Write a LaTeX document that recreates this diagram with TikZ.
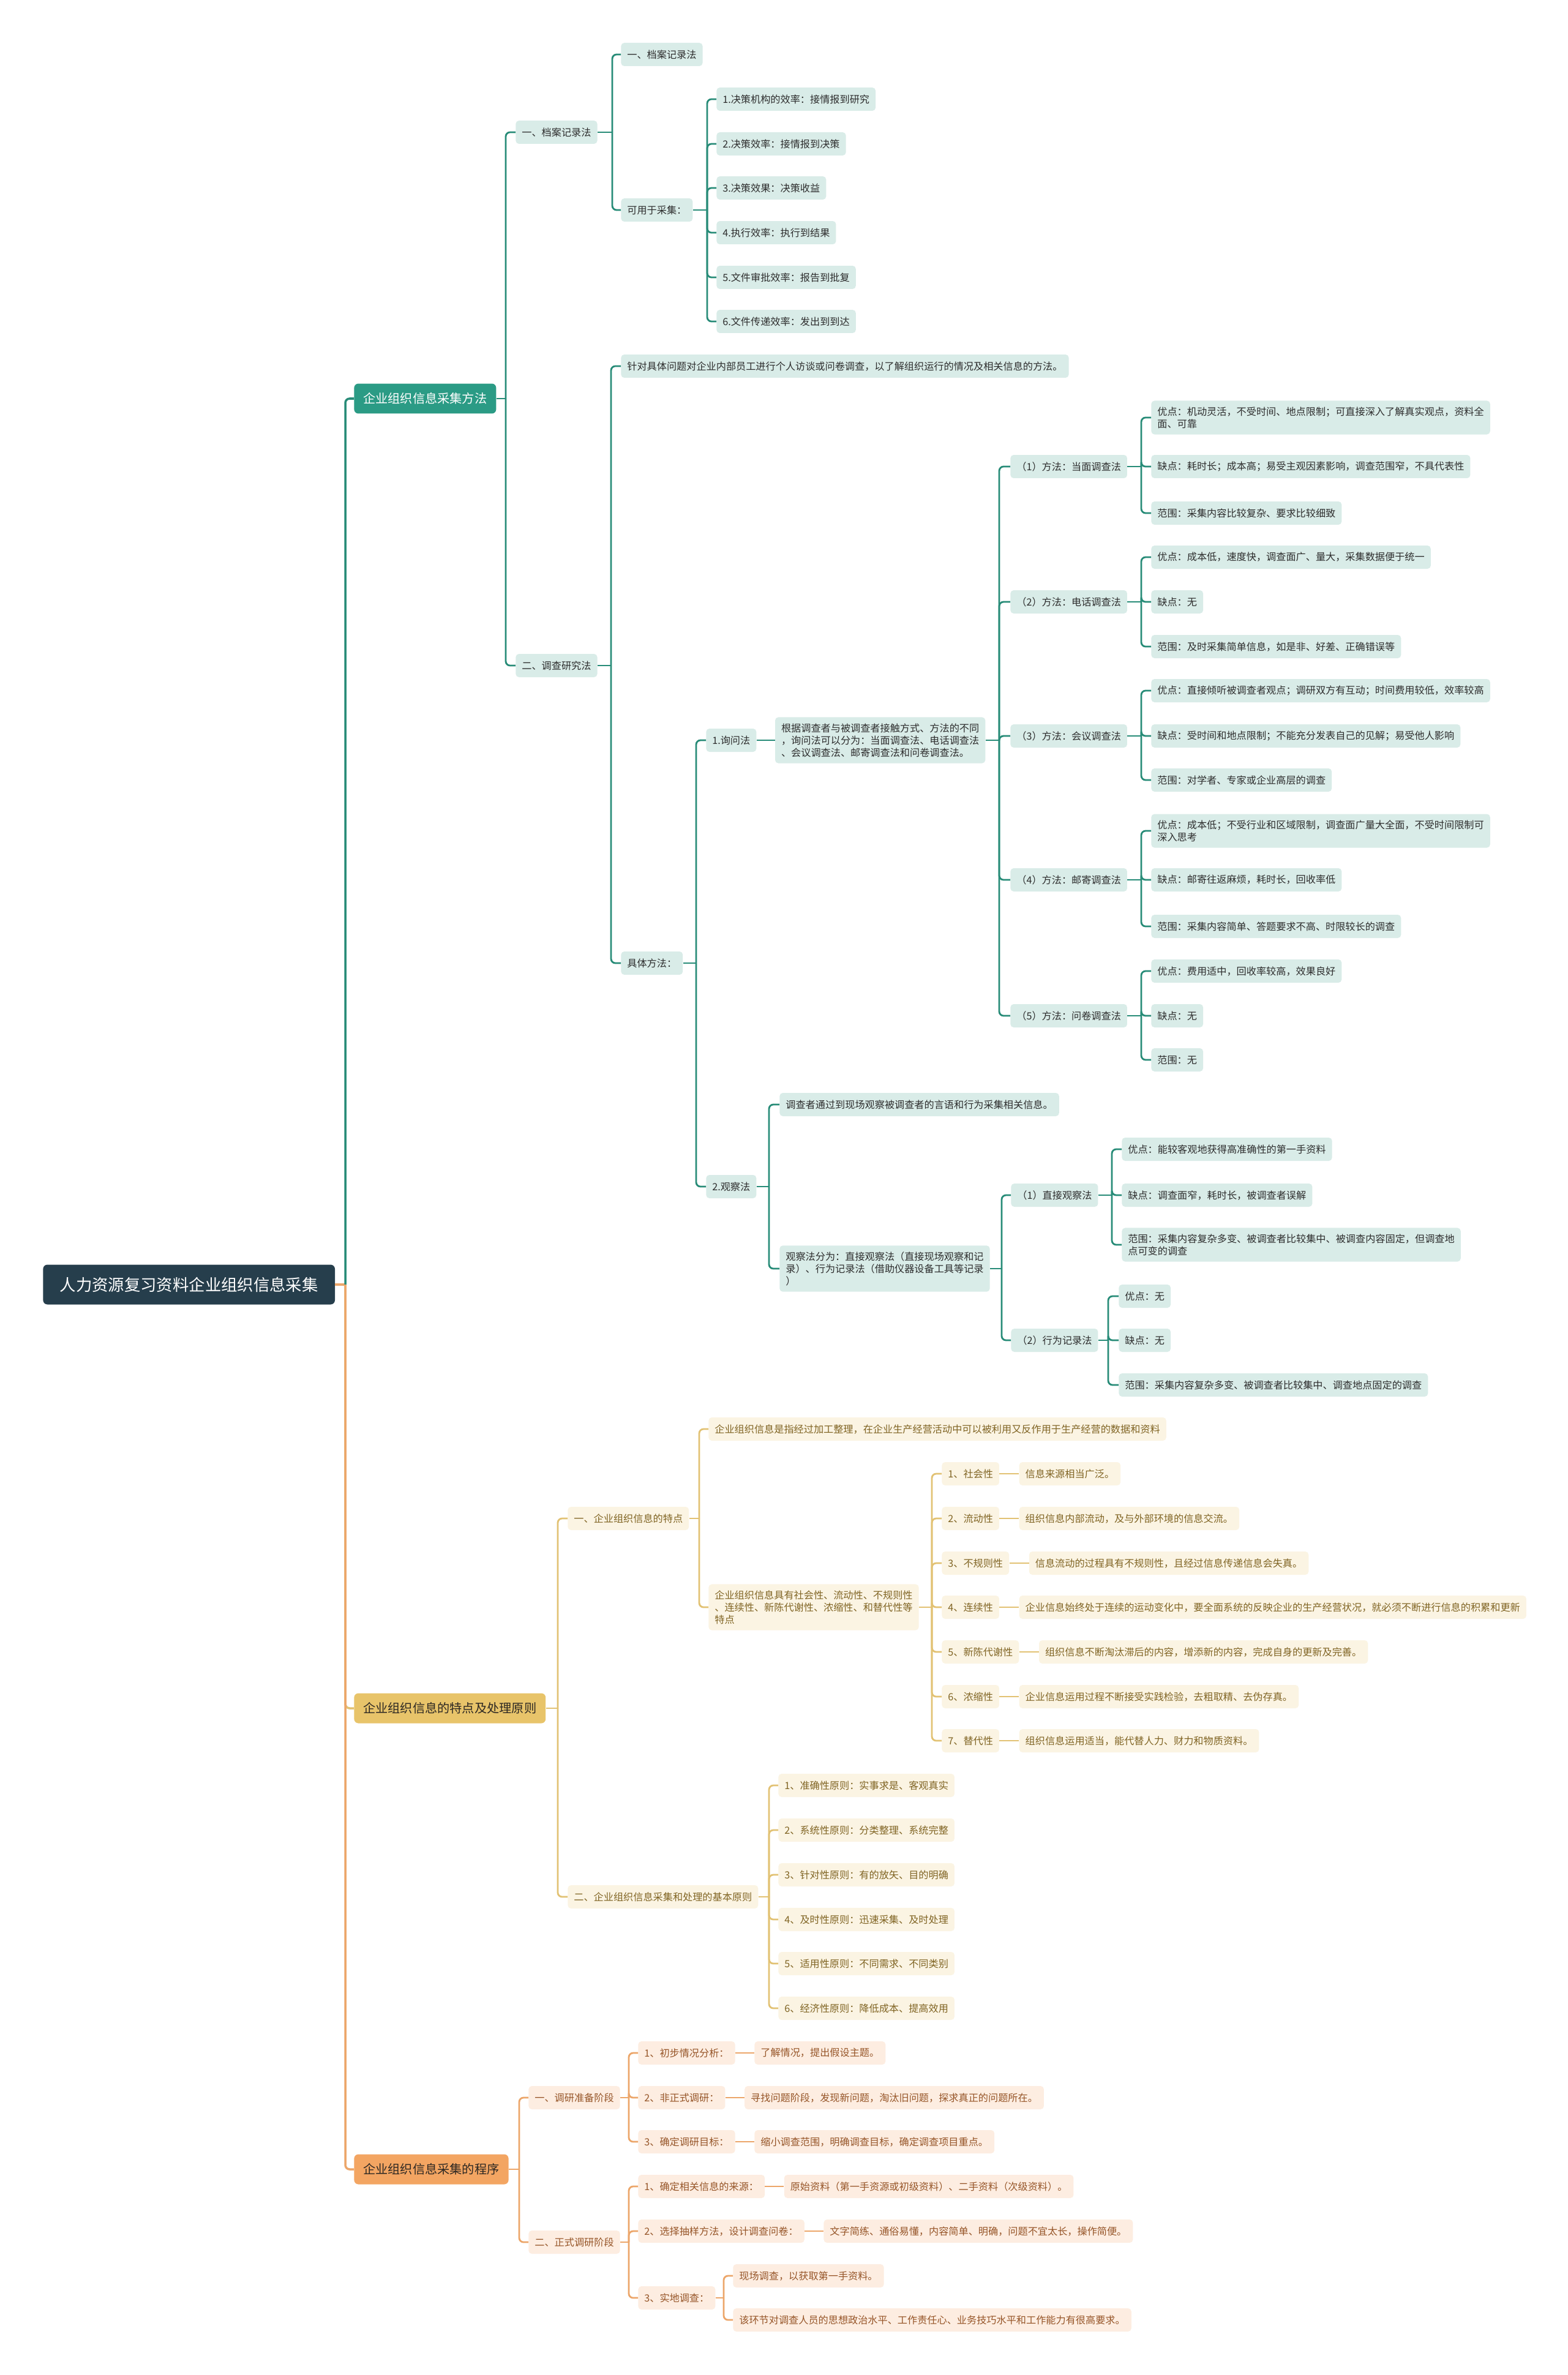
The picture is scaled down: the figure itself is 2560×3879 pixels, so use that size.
\documentclass[tikz,border=0pt]{standalone}
\usepackage{fontspec}
\setmainfont{Noto Sans CJK SC}
\usetikzlibrary{positioning}

\definecolor{rootC}{RGB}{38,62,76}
\definecolor{tealC}{RGB}{43,155,133}
\definecolor{tealL}{RGB}{40,140,120}
\definecolor{tealP}{RGB}{217,236,232}
\definecolor{tealT}{RGB}{45,45,45}
\definecolor{goldC}{RGB}{232,196,106}
\definecolor{goldL}{RGB}{226,194,116}
\definecolor{goldP}{RGB}{251,244,227}
\definecolor{goldT}{RGB}{128,100,35}
\definecolor{orgC}{RGB}{243,165,98}
\definecolor{orgL}{RGB}{236,166,106}
\definecolor{orgP}{RGB}{253,237,225}
\definecolor{orgT}{RGB}{150,85,40}
\definecolor{darkT}{RGB}{45,40,35}

\newcommand{\leaffont}{\fontsize{9.2}{11.4}\selectfont}

\begin{document}
\begin{tikzpicture}[
        x=0.02cm, y=-0.02cm,
        leaf/.style={rectangle, rounded corners=3pt, anchor=west, align=left, inner xsep=0.2cm, inner ysep=0.2cm, minimum height=0.76cm, font=\leaffont},
        tleaf/.style={leaf, fill=tealP, text=tealT},
        gleaf/.style={leaf, fill=goldP, text=goldT},
        oleaf/.style={leaf, fill=orgP, text=orgT},
        branch/.style={rectangle, rounded corners=4pt, anchor=west, inner xsep=0.3cm, minimum height=0.98cm, font=\fontsize{11.5}{13}\selectfont},
        root/.style={rectangle, rounded corners=4pt, anchor=west, fill=rootC, text=white, inner xsep=0.55cm, minimum height=1.3cm, font=\fontsize{15}{17}\selectfont},
        tline/.style={draw=tealL, line width=1.6pt, rounded corners=4pt},
        gline/.style={draw=goldL, line width=1.6pt, rounded corners=4pt},
        oline/.style={draw=orgL, line width=1.6pt, rounded corners=4pt}
    ]
        \fill[white] (0,0) rectangle (2560,3879);
        \useasboundingbox (0,0) rectangle (2560,3879);

        % Root and main branches
        \node[root] (root) at (70,2098) {人力资源复习资料企业组织信息采集};
        \node[branch, fill=tealC, text=white] (cjff) at (578,651) {企业组织信息采集方法};
        \node[branch, fill=goldC, text=darkT] (tdyz) at (578,2790) {企业组织信息的特点及处理原则};
        \node[branch, fill=orgC, text=darkT] (cjcx) at (578,3543) {企业组织信息采集的程序};

        % Branch 1: archive method
        \node[tleaf] (dajl) at (842,216) {一、档案记录法};
        \node[tleaf] (dajla) at (1014,89) {一、档案记录法};
        \node[tleaf] (kycj) at (1014,343) {可用于采集：};
        \node[tleaf] (xl1) at (1170,162) {1.决策机构的效率：接情报到研究};
        \node[tleaf] (xl2) at (1170,235) {2.决策效率：接情报到决策};
        \node[tleaf] (xl3) at (1170,307) {3.决策效果：决策收益};
        \node[tleaf] (xl4) at (1170,380) {4.执行效率：执行到结果};
        \node[tleaf] (xl5) at (1170,453) {5.文件审批效率：报告到批复};
        \node[tleaf] (xl6) at (1170,525) {6.文件传递效率：发出到到达};

        % Branch 1: survey method
        \node[tleaf] (dcyj) at (842,1087) {二、调查研究法};
        \node[tleaf] (dcdy) at (1014,598) {针对具体问题对企业内部员工进行个人访谈或问卷调查，以了解组织运行的情况及相关信息的方法。};
        \node[tleaf] (jtff) at (1014,1573) {具体方法：};
        \node[tleaf] (xwf) at (1153,1209) {1.询问法};
        \node[tleaf, right=0.6cm of xwf] (xwfd) {根据调查者与被调查者接触方式、方法的不同\\，询问法可以分为：当面调查法、电话调查法\\、会议调查法、邮寄调查法和问卷调查法。};

        \node[tleaf] (fm1) at (1650,762) {（1）方法：当面调查法};
        \node[tleaf] (fm1a) at (1880,682) {优点：机动灵活，不受时间、地点限制；可直接深入了解真实观点，资料全\\面、可靠};
        \node[tleaf] (fm1b) at (1880,762) {缺点：耗时长；成本高；易受主观因素影响，调查范围窄，不具代表性};
        \node[tleaf] (fm1c) at (1880,838) {范围：采集内容比较复杂、要求比较细致};

        \node[tleaf] (fm2) at (1650,983) {（2）方法：电话调查法};
        \node[tleaf] (fm2a) at (1880,910) {优点：成本低，速度快，调查面广、量大，采集数据便于统一};
        \node[tleaf] (fm2b) at (1880,983) {缺点：无};
        \node[tleaf] (fm2c) at (1880,1056) {范围：及时采集简单信息，如是非、好差、正确错误等};

        \node[tleaf] (fm3) at (1650,1202) {（3）方法：会议调查法};
        \node[tleaf] (fm3a) at (1880,1128) {优点：直接倾听被调查者观点；调研双方有互动；时间费用较低，效率较高};
        \node[tleaf] (fm3b) at (1880,1202) {缺点：受时间和地点限制；不能充分发表自己的见解；易受他人影响};
        \node[tleaf] (fm3c) at (1880,1274) {范围：对学者、专家或企业高层的调查};

        \node[tleaf] (fm4) at (1650,1437) {（4）方法：邮寄调查法};
        \node[tleaf] (fm4a) at (1880,1357) {优点：成本低；不受行业和区域限制，调查面广量大全面，不受时间限制可\\深入思考};
        \node[tleaf] (fm4b) at (1880,1437) {缺点：邮寄往返麻烦，耗时长，回收率低};
        \node[tleaf] (fm4c) at (1880,1513) {范围：采集内容简单、答题要求不高、时限较长的调查};

        \node[tleaf] (fm5) at (1650,1659) {（5）方法：问卷调查法};
        \node[tleaf] (fm5a) at (1880,1586) {优点：费用适中，回收率较高，效果良好};
        \node[tleaf] (fm5b) at (1880,1659) {缺点：无};
        \node[tleaf] (fm5c) at (1880,1731) {范围：无};

        \node[tleaf] (gcf) at (1153,1938) {2.观察法};
        \node[tleaf] (gcd1) at (1273,1804) {调查者通过到现场观察被调查者的言语和行为采集相关信息。};
        \node[tleaf] (gcd2) at (1273,2072) {观察法分为：直接观察法（直接现场观察和记\\录）、行为记录法（借助仪器设备工具等记录\\）};
        \node[tleaf] (zjgc) at (1651,1952) {（1）直接观察法};
        \node[tleaf] (zjgca) at (1832,1877) {优点：能较客观地获得高准确性的第一手资料};
        \node[tleaf] (zjgcb) at (1832,1952) {缺点：调查面窄，耗时长，被调查者误解};
        \node[tleaf] (zjgcc) at (1832,2033) {范围：采集内容复杂多变、被调查者比较集中、被调查内容固定，但调查地\\点可变的调查};
        \node[tleaf] (xwjl) at (1651,2189) {（2）行为记录法};
        \node[tleaf] (xwjla) at (1827,2117) {优点：无};
        \node[tleaf] (xwjlb) at (1827,2189) {缺点：无};
        \node[tleaf] (xwjlc) at (1827,2262) {范围：采集内容复杂多变、被调查者比较集中、调查地点固定的调查};

        % Branch 2: features
        \node[gleaf] (tzd) at (927,2480) {一、企业组织信息的特点};
        \node[gleaf] (tzd1) at (1157,2334) {企业组织信息是指经过加工整理，在企业生产经营活动中可以被利用又反作用于生产经营的数据和资料};
        \node[gleaf] (tzd2) at (1157,2625) {企业组织信息具有社会性、流动性、不规则性\\、连续性、新陈代谢性、浓缩性、和替代性等\\特点};
        \node[gleaf] (tx1) at (1538,2407) {1、社会性};
        \node[gleaf] (tx2) at (1538,2480) {2、流动性};
        \node[gleaf] (tx3) at (1538,2553) {3、不规则性};
        \node[gleaf] (tx4) at (1538,2625) {4、连续性};
        \node[gleaf] (tx5) at (1538,2698) {5、新陈代谢性};
        \node[gleaf] (tx6) at (1538,2771) {6、浓缩性};
        \node[gleaf] (tx7) at (1538,2843) {7、替代性};
        \node[gleaf, right=0.64cm of tx1] (tx1d) {信息来源相当广泛。};
        \node[gleaf, right=0.64cm of tx2] (tx2d) {组织信息内部流动，及与外部环境的信息交流。};
        \node[gleaf, right=0.64cm of tx3] (tx3d) {信息流动的过程具有不规则性，且经过信息传递信息会失真。};
        \node[gleaf, right=0.64cm of tx4] (tx4d) {企业信息始终处于连续的运动变化中，要全面系统的反映企业的生产经营状况，就必须不断进行信息的积累和更新};
        \node[gleaf, right=0.64cm of tx5] (tx5d) {组织信息不断淘汰滞后的内容，增添新的内容，完成自身的更新及完善。};
        \node[gleaf, right=0.64cm of tx6] (tx6d) {企业信息运用过程不断接受实践检验，去粗取精、去伪存真。};
        \node[gleaf, right=0.64cm of tx7] (tx7d) {组织信息运用适当，能代替人力、财力和物质资料。};

        % Branch 2: principles
        \node[gleaf] (yz) at (927,3098) {二、企业组织信息采集和处理的基本原则};
        \node[gleaf] (yz1) at (1271,2916) {1、准确性原则：实事求是、客观真实};
        \node[gleaf] (yz2) at (1271,2989) {2、系统性原则：分类整理、系统完整};
        \node[gleaf] (yz3) at (1271,3062) {3、针对性原则：有的放矢、目的明确};
        \node[gleaf] (yz4) at (1271,3135) {4、及时性原则：迅速采集、及时处理};
        \node[gleaf] (yz5) at (1271,3207) {5、适用性原则：不同需求、不同类别};
        \node[gleaf] (yz6) at (1271,3280) {6、经济性原则：降低成本、提高效用};

        % Branch 3: procedure
        \node[oleaf] (zbjd) at (863,3426) {一、调研准备阶段};
        \node[oleaf] (zb1) at (1042,3353) {1、初步情况分析：};
        \node[oleaf] (zb2) at (1042,3426) {2、非正式调研：};
        \node[oleaf] (zb3) at (1042,3498) {3、确定调研目标：};
        \node[oleaf, right=0.62cm of zb1] (zb1d) {了解情况，提出假设主题。};
        \node[oleaf, right=0.62cm of zb2] (zb2d) {寻找问题阶段，发现新问题，淘汰旧问题，探求真正的问题所在。};
        \node[oleaf, right=0.62cm of zb3] (zb3d) {缩小调查范围，明确调查目标，确定调查项目重点。};

        \node[oleaf] (zsjd) at (863,3662) {二、正式调研阶段};
        \node[oleaf] (zs1) at (1042,3571) {1、确定相关信息的来源：};
        \node[oleaf] (zs2) at (1042,3644) {2、选择抽样方法，设计调查问卷：};
        \node[oleaf] (zs3) at (1042,3753) {3、实地调查：};
        \node[oleaf, right=0.62cm of zs1] (zs1d) {原始资料（第一手资源或初级资料）、二手资料（次级资料）。};
        \node[oleaf, right=0.62cm of zs2] (zs2d) {文字简练、通俗易懂，内容简单、明确，问题不宜太长，操作简便。};
        \node[oleaf] (zs3a) at (1197,3717) {现场调查，以获取第一手资料。};
        \node[oleaf] (zs3b) at (1197,3789) {该环节对调查人员的思想政治水平、工作责任心、业务技巧水平和工作能力有很高要求。};

        % Trunk
        \coordinate (rj) at (564,2098);
        \draw[oline, line width=2pt] (root) -- (rj);
        \draw[tline, line width=2pt] (rj) |- (cjff.west);
        \draw[gline, line width=2pt] (rj) |- (tdyz.west);
        \draw[oline, line width=2pt] (rj) |- (cjcx.west);

        % Connectors branch 1
        \coordinate (j1) at (826,651);
        \draw[tline] (cjff) -- (j1);
        \foreach \c in {dajl,dcyj} \draw[tline] (j1) |- (\c.west);
        \coordinate (j2) at (1000,216);
        \draw[tline] (dajl) -- (j2);
        \foreach \c in {dajla,kycj} \draw[tline] (j2) |- (\c.west);
        \coordinate (j3) at (1155,343);
        \draw[tline] (kycj) -- (j3);
        \foreach \i in {1,...,6} \draw[tline] (j3) |- (xl\i.west);
        \coordinate (j4) at (998,1087);
        \draw[tline] (dcyj) -- (j4);
        \foreach \c in {dcdy,jtff} \draw[tline] (j4) |- (\c.west);
        \coordinate (j5) at (1137,1573);
        \draw[tline] (jtff) -- (j5);
        \foreach \c in {xwf,gcf} \draw[tline] (j5) |- (\c.west);
        \draw[tline] (xwf) -- (xwfd);
        \coordinate (j6) at (1632,1209);
        \draw[tline] (xwfd) -- (j6);
        \foreach \i in {1,...,5} \draw[tline] (j6) |- (fm\i.west);
        \foreach \i/\y in {1/762,2/983,3/1202,4/1437,5/1659} {
            \coordinate (fj\i) at (1864,\y);
            \draw[tline] (fm\i) -- (fj\i);
            \foreach \k in {a,b,c} \draw[tline] (fj\i) |- (fm\i\k.west);
        }
        \coordinate (j7) at (1256,1938);
        \draw[tline] (gcf) -- (j7);
        \foreach \c in {gcd1,gcd2} \draw[tline] (j7) |- (\c.west);
        \coordinate (j8) at (1636,2072);
        \draw[tline] (gcd2) -- (j8);
        \foreach \c in {zjgc,xwjl} \draw[tline] (j8) |- (\c.west);
        \coordinate (j9) at (1816,1952);
        \draw[tline] (zjgc) -- (j9);
        \foreach \k in {a,b,c} \draw[tline] (j9) |- (zjgc\k.west);
        \coordinate (j10) at (1810,2189);
        \draw[tline] (xwjl) -- (j10);
        \foreach \k in {a,b,c} \draw[tline] (j10) |- (xwjl\k.west);

        % Connectors branch 2
        \coordinate (k1) at (911,2790);
        \draw[gline] (tdyz) -- (k1);
        \foreach \c in {tzd,yz} \draw[gline] (k1) |- (\c.west);
        \coordinate (k2) at (1142,2480);
        \draw[gline] (tzd) -- (k2);
        \foreach \c in {tzd1,tzd2} \draw[gline] (k2) |- (\c.west);
        \coordinate (k3) at (1522,2625);
        \draw[gline] (tzd2) -- (k3);
        \foreach \i in {1,...,7} {
            \draw[gline] (k3) |- (tx\i.west);
            \draw[gline] (tx\i) -- (tx\i d);
        }
        \coordinate (k4) at (1256,3098);
        \draw[gline] (yz) -- (k4);
        \foreach \i in {1,...,6} \draw[gline] (k4) |- (yz\i.west);

        % Connectors branch 3
        \coordinate (m1) at (848,3543);
        \draw[oline] (cjcx) -- (m1);
        \foreach \c in {zbjd,zsjd} \draw[oline] (m1) |- (\c.west);
        \coordinate (m2) at (1027,3426);
        \draw[oline] (zbjd) -- (m2);
        \foreach \i in {1,2,3} {
            \draw[oline] (m2) |- (zb\i.west);
            \draw[oline] (zb\i) -- (zb\i d);
        }
        \coordinate (m3) at (1027,3662);
        \draw[oline] (zsjd) -- (m3);
        \foreach \i in {1,2,3} \draw[oline] (m3) |- (zs\i.west);
        \draw[oline] (zs1) -- (zs1d);
        \draw[oline] (zs2) -- (zs2d);
        \coordinate (m4) at (1182,3753);
        \draw[oline] (zs3) -- (m4);
        \foreach \c in {zs3a,zs3b} \draw[oline] (m4) |- (\c.west);
    \end{tikzpicture}
\end{document}
